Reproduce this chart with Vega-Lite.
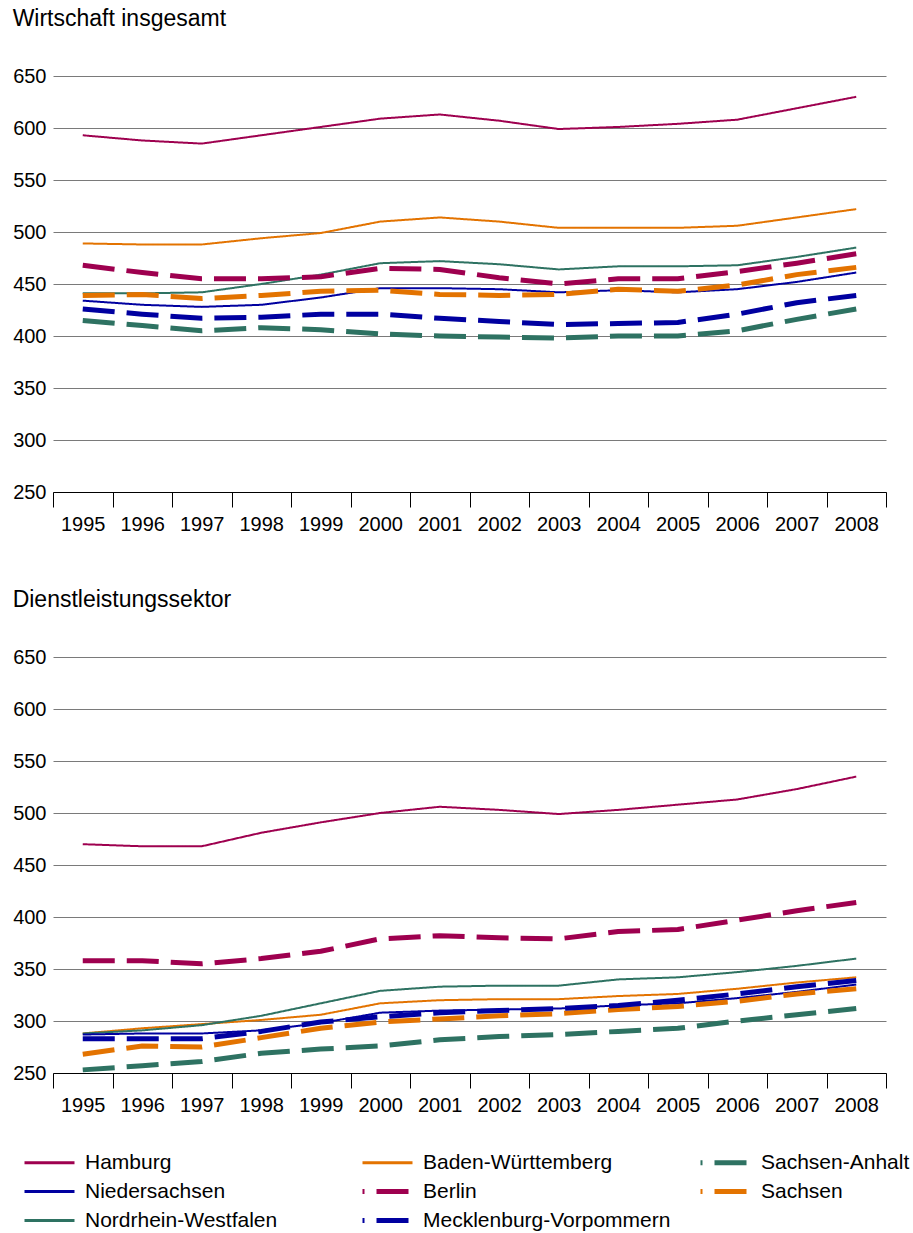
{
  "$schema": "https://vega.github.io/schema/vega-lite/v6.json",
  "background": "white",
  "padding": {"left": 12, "top": 8, "right": 10, "bottom": 10},
  "datasets": {
    "d": [
      {"sektor":"gesamt","land":"Hamburg","region":"West","jahr":"1995","wert":593},{"sektor":"gesamt","land":"Hamburg","region":"West","jahr":"1996","wert":588},{"sektor":"gesamt","land":"Hamburg","region":"West","jahr":"1997","wert":585},{"sektor":"gesamt","land":"Hamburg","region":"West","jahr":"1998","wert":593},{"sektor":"gesamt","land":"Hamburg","region":"West","jahr":"1999","wert":601},{"sektor":"gesamt","land":"Hamburg","region":"West","jahr":"2000","wert":609},{"sektor":"gesamt","land":"Hamburg","region":"West","jahr":"2001","wert":613},{"sektor":"gesamt","land":"Hamburg","region":"West","jahr":"2002","wert":607},{"sektor":"gesamt","land":"Hamburg","region":"West","jahr":"2003","wert":599},{"sektor":"gesamt","land":"Hamburg","region":"West","jahr":"2004","wert":601},{"sektor":"gesamt","land":"Hamburg","region":"West","jahr":"2005","wert":604},{"sektor":"gesamt","land":"Hamburg","region":"West","jahr":"2006","wert":608},{"sektor":"gesamt","land":"Hamburg","region":"West","jahr":"2007","wert":619},{"sektor":"gesamt","land":"Hamburg","region":"West","jahr":"2008","wert":630},
      {"sektor":"gesamt","land":"Baden-Württemberg","region":"West","jahr":"1995","wert":489},{"sektor":"gesamt","land":"Baden-Württemberg","region":"West","jahr":"1996","wert":488},{"sektor":"gesamt","land":"Baden-Württemberg","region":"West","jahr":"1997","wert":488},{"sektor":"gesamt","land":"Baden-Württemberg","region":"West","jahr":"1998","wert":494},{"sektor":"gesamt","land":"Baden-Württemberg","region":"West","jahr":"1999","wert":499},{"sektor":"gesamt","land":"Baden-Württemberg","region":"West","jahr":"2000","wert":510},{"sektor":"gesamt","land":"Baden-Württemberg","region":"West","jahr":"2001","wert":514},{"sektor":"gesamt","land":"Baden-Württemberg","region":"West","jahr":"2002","wert":510},{"sektor":"gesamt","land":"Baden-Württemberg","region":"West","jahr":"2003","wert":504},{"sektor":"gesamt","land":"Baden-Württemberg","region":"West","jahr":"2004","wert":504},{"sektor":"gesamt","land":"Baden-Württemberg","region":"West","jahr":"2005","wert":504},{"sektor":"gesamt","land":"Baden-Württemberg","region":"West","jahr":"2006","wert":506},{"sektor":"gesamt","land":"Baden-Württemberg","region":"West","jahr":"2007","wert":514},{"sektor":"gesamt","land":"Baden-Württemberg","region":"West","jahr":"2008","wert":522},
      {"sektor":"gesamt","land":"Nordrhein-Westfalen","region":"West","jahr":"1995","wert":441},{"sektor":"gesamt","land":"Nordrhein-Westfalen","region":"West","jahr":"1996","wert":441},{"sektor":"gesamt","land":"Nordrhein-Westfalen","region":"West","jahr":"1997","wert":442},{"sektor":"gesamt","land":"Nordrhein-Westfalen","region":"West","jahr":"1998","wert":450},{"sektor":"gesamt","land":"Nordrhein-Westfalen","region":"West","jahr":"1999","wert":459},{"sektor":"gesamt","land":"Nordrhein-Westfalen","region":"West","jahr":"2000","wert":470},{"sektor":"gesamt","land":"Nordrhein-Westfalen","region":"West","jahr":"2001","wert":472},{"sektor":"gesamt","land":"Nordrhein-Westfalen","region":"West","jahr":"2002","wert":469},{"sektor":"gesamt","land":"Nordrhein-Westfalen","region":"West","jahr":"2003","wert":464},{"sektor":"gesamt","land":"Nordrhein-Westfalen","region":"West","jahr":"2004","wert":467},{"sektor":"gesamt","land":"Nordrhein-Westfalen","region":"West","jahr":"2005","wert":467},{"sektor":"gesamt","land":"Nordrhein-Westfalen","region":"West","jahr":"2006","wert":468},{"sektor":"gesamt","land":"Nordrhein-Westfalen","region":"West","jahr":"2007","wert":476},{"sektor":"gesamt","land":"Nordrhein-Westfalen","region":"West","jahr":"2008","wert":485},
      {"sektor":"gesamt","land":"Niedersachsen","region":"West","jahr":"1995","wert":434},{"sektor":"gesamt","land":"Niedersachsen","region":"West","jahr":"1996","wert":430},{"sektor":"gesamt","land":"Niedersachsen","region":"West","jahr":"1997","wert":428},{"sektor":"gesamt","land":"Niedersachsen","region":"West","jahr":"1998","wert":430},{"sektor":"gesamt","land":"Niedersachsen","region":"West","jahr":"1999","wert":437},{"sektor":"gesamt","land":"Niedersachsen","region":"West","jahr":"2000","wert":446},{"sektor":"gesamt","land":"Niedersachsen","region":"West","jahr":"2001","wert":446},{"sektor":"gesamt","land":"Niedersachsen","region":"West","jahr":"2002","wert":445},{"sektor":"gesamt","land":"Niedersachsen","region":"West","jahr":"2003","wert":442},{"sektor":"gesamt","land":"Niedersachsen","region":"West","jahr":"2004","wert":444},{"sektor":"gesamt","land":"Niedersachsen","region":"West","jahr":"2005","wert":442},{"sektor":"gesamt","land":"Niedersachsen","region":"West","jahr":"2006","wert":445},{"sektor":"gesamt","land":"Niedersachsen","region":"West","jahr":"2007","wert":452},{"sektor":"gesamt","land":"Niedersachsen","region":"West","jahr":"2008","wert":461},
      {"sektor":"gesamt","land":"Berlin","region":"Ost","jahr":"1995","wert":468},{"sektor":"gesamt","land":"Berlin","region":"Ost","jahr":"1996","wert":461},{"sektor":"gesamt","land":"Berlin","region":"Ost","jahr":"1997","wert":455},{"sektor":"gesamt","land":"Berlin","region":"Ost","jahr":"1998","wert":455},{"sektor":"gesamt","land":"Berlin","region":"Ost","jahr":"1999","wert":457},{"sektor":"gesamt","land":"Berlin","region":"Ost","jahr":"2000","wert":465},{"sektor":"gesamt","land":"Berlin","region":"Ost","jahr":"2001","wert":464},{"sektor":"gesamt","land":"Berlin","region":"Ost","jahr":"2002","wert":456},{"sektor":"gesamt","land":"Berlin","region":"Ost","jahr":"2003","wert":450},{"sektor":"gesamt","land":"Berlin","region":"Ost","jahr":"2004","wert":455},{"sektor":"gesamt","land":"Berlin","region":"Ost","jahr":"2005","wert":455},{"sektor":"gesamt","land":"Berlin","region":"Ost","jahr":"2006","wert":462},{"sektor":"gesamt","land":"Berlin","region":"Ost","jahr":"2007","wert":470},{"sektor":"gesamt","land":"Berlin","region":"Ost","jahr":"2008","wert":479},
      {"sektor":"gesamt","land":"Sachsen","region":"Ost","jahr":"1995","wert":439},{"sektor":"gesamt","land":"Sachsen","region":"Ost","jahr":"1996","wert":440},{"sektor":"gesamt","land":"Sachsen","region":"Ost","jahr":"1997","wert":436},{"sektor":"gesamt","land":"Sachsen","region":"Ost","jahr":"1998","wert":439},{"sektor":"gesamt","land":"Sachsen","region":"Ost","jahr":"1999","wert":443},{"sektor":"gesamt","land":"Sachsen","region":"Ost","jahr":"2000","wert":444},{"sektor":"gesamt","land":"Sachsen","region":"Ost","jahr":"2001","wert":440},{"sektor":"gesamt","land":"Sachsen","region":"Ost","jahr":"2002","wert":439},{"sektor":"gesamt","land":"Sachsen","region":"Ost","jahr":"2003","wert":440},{"sektor":"gesamt","land":"Sachsen","region":"Ost","jahr":"2004","wert":445},{"sektor":"gesamt","land":"Sachsen","region":"Ost","jahr":"2005","wert":443},{"sektor":"gesamt","land":"Sachsen","region":"Ost","jahr":"2006","wert":449},{"sektor":"gesamt","land":"Sachsen","region":"Ost","jahr":"2007","wert":459},{"sektor":"gesamt","land":"Sachsen","region":"Ost","jahr":"2008","wert":466},
      {"sektor":"gesamt","land":"Mecklenburg-Vorpommern","region":"Ost","jahr":"1995","wert":426},{"sektor":"gesamt","land":"Mecklenburg-Vorpommern","region":"Ost","jahr":"1996","wert":421},{"sektor":"gesamt","land":"Mecklenburg-Vorpommern","region":"Ost","jahr":"1997","wert":417},{"sektor":"gesamt","land":"Mecklenburg-Vorpommern","region":"Ost","jahr":"1998","wert":418},{"sektor":"gesamt","land":"Mecklenburg-Vorpommern","region":"Ost","jahr":"1999","wert":421},{"sektor":"gesamt","land":"Mecklenburg-Vorpommern","region":"Ost","jahr":"2000","wert":421},{"sektor":"gesamt","land":"Mecklenburg-Vorpommern","region":"Ost","jahr":"2001","wert":417},{"sektor":"gesamt","land":"Mecklenburg-Vorpommern","region":"Ost","jahr":"2002","wert":414},{"sektor":"gesamt","land":"Mecklenburg-Vorpommern","region":"Ost","jahr":"2003","wert":411},{"sektor":"gesamt","land":"Mecklenburg-Vorpommern","region":"Ost","jahr":"2004","wert":412},{"sektor":"gesamt","land":"Mecklenburg-Vorpommern","region":"Ost","jahr":"2005","wert":413},{"sektor":"gesamt","land":"Mecklenburg-Vorpommern","region":"Ost","jahr":"2006","wert":421},{"sektor":"gesamt","land":"Mecklenburg-Vorpommern","region":"Ost","jahr":"2007","wert":432},{"sektor":"gesamt","land":"Mecklenburg-Vorpommern","region":"Ost","jahr":"2008","wert":439},
      {"sektor":"gesamt","land":"Sachsen-Anhalt","region":"Ost","jahr":"1995","wert":415},{"sektor":"gesamt","land":"Sachsen-Anhalt","region":"Ost","jahr":"1996","wert":410},{"sektor":"gesamt","land":"Sachsen-Anhalt","region":"Ost","jahr":"1997","wert":405},{"sektor":"gesamt","land":"Sachsen-Anhalt","region":"Ost","jahr":"1998","wert":408},{"sektor":"gesamt","land":"Sachsen-Anhalt","region":"Ost","jahr":"1999","wert":406},{"sektor":"gesamt","land":"Sachsen-Anhalt","region":"Ost","jahr":"2000","wert":402},{"sektor":"gesamt","land":"Sachsen-Anhalt","region":"Ost","jahr":"2001","wert":400},{"sektor":"gesamt","land":"Sachsen-Anhalt","region":"Ost","jahr":"2002","wert":399},{"sektor":"gesamt","land":"Sachsen-Anhalt","region":"Ost","jahr":"2003","wert":398},{"sektor":"gesamt","land":"Sachsen-Anhalt","region":"Ost","jahr":"2004","wert":400},{"sektor":"gesamt","land":"Sachsen-Anhalt","region":"Ost","jahr":"2005","wert":400},{"sektor":"gesamt","land":"Sachsen-Anhalt","region":"Ost","jahr":"2006","wert":405},{"sektor":"gesamt","land":"Sachsen-Anhalt","region":"Ost","jahr":"2007","wert":416},{"sektor":"gesamt","land":"Sachsen-Anhalt","region":"Ost","jahr":"2008","wert":426},
      {"sektor":"dienst","land":"Hamburg","region":"West","jahr":"1995","wert":470},{"sektor":"dienst","land":"Hamburg","region":"West","jahr":"1996","wert":468},{"sektor":"dienst","land":"Hamburg","region":"West","jahr":"1997","wert":468},{"sektor":"dienst","land":"Hamburg","region":"West","jahr":"1998","wert":481},{"sektor":"dienst","land":"Hamburg","region":"West","jahr":"1999","wert":491},{"sektor":"dienst","land":"Hamburg","region":"West","jahr":"2000","wert":500},{"sektor":"dienst","land":"Hamburg","region":"West","jahr":"2001","wert":506},{"sektor":"dienst","land":"Hamburg","region":"West","jahr":"2002","wert":503},{"sektor":"dienst","land":"Hamburg","region":"West","jahr":"2003","wert":499},{"sektor":"dienst","land":"Hamburg","region":"West","jahr":"2004","wert":503},{"sektor":"dienst","land":"Hamburg","region":"West","jahr":"2005","wert":508},{"sektor":"dienst","land":"Hamburg","region":"West","jahr":"2006","wert":513},{"sektor":"dienst","land":"Hamburg","region":"West","jahr":"2007","wert":523},{"sektor":"dienst","land":"Hamburg","region":"West","jahr":"2008","wert":535},
      {"sektor":"dienst","land":"Baden-Württemberg","region":"West","jahr":"1995","wert":288},{"sektor":"dienst","land":"Baden-Württemberg","region":"West","jahr":"1996","wert":293},{"sektor":"dienst","land":"Baden-Württemberg","region":"West","jahr":"1997","wert":297},{"sektor":"dienst","land":"Baden-Württemberg","region":"West","jahr":"1998","wert":301},{"sektor":"dienst","land":"Baden-Württemberg","region":"West","jahr":"1999","wert":306},{"sektor":"dienst","land":"Baden-Württemberg","region":"West","jahr":"2000","wert":317},{"sektor":"dienst","land":"Baden-Württemberg","region":"West","jahr":"2001","wert":320},{"sektor":"dienst","land":"Baden-Württemberg","region":"West","jahr":"2002","wert":321},{"sektor":"dienst","land":"Baden-Württemberg","region":"West","jahr":"2003","wert":321},{"sektor":"dienst","land":"Baden-Württemberg","region":"West","jahr":"2004","wert":324},{"sektor":"dienst","land":"Baden-Württemberg","region":"West","jahr":"2005","wert":326},{"sektor":"dienst","land":"Baden-Württemberg","region":"West","jahr":"2006","wert":331},{"sektor":"dienst","land":"Baden-Württemberg","region":"West","jahr":"2007","wert":337},{"sektor":"dienst","land":"Baden-Württemberg","region":"West","jahr":"2008","wert":342},
      {"sektor":"dienst","land":"Nordrhein-Westfalen","region":"West","jahr":"1995","wert":288},{"sektor":"dienst","land":"Nordrhein-Westfalen","region":"West","jahr":"1996","wert":291},{"sektor":"dienst","land":"Nordrhein-Westfalen","region":"West","jahr":"1997","wert":296},{"sektor":"dienst","land":"Nordrhein-Westfalen","region":"West","jahr":"1998","wert":305},{"sektor":"dienst","land":"Nordrhein-Westfalen","region":"West","jahr":"1999","wert":317},{"sektor":"dienst","land":"Nordrhein-Westfalen","region":"West","jahr":"2000","wert":329},{"sektor":"dienst","land":"Nordrhein-Westfalen","region":"West","jahr":"2001","wert":333},{"sektor":"dienst","land":"Nordrhein-Westfalen","region":"West","jahr":"2002","wert":334},{"sektor":"dienst","land":"Nordrhein-Westfalen","region":"West","jahr":"2003","wert":334},{"sektor":"dienst","land":"Nordrhein-Westfalen","region":"West","jahr":"2004","wert":340},{"sektor":"dienst","land":"Nordrhein-Westfalen","region":"West","jahr":"2005","wert":342},{"sektor":"dienst","land":"Nordrhein-Westfalen","region":"West","jahr":"2006","wert":347},{"sektor":"dienst","land":"Nordrhein-Westfalen","region":"West","jahr":"2007","wert":353},{"sektor":"dienst","land":"Nordrhein-Westfalen","region":"West","jahr":"2008","wert":360},
      {"sektor":"dienst","land":"Niedersachsen","region":"West","jahr":"1995","wert":287},{"sektor":"dienst","land":"Niedersachsen","region":"West","jahr":"1996","wert":288},{"sektor":"dienst","land":"Niedersachsen","region":"West","jahr":"1997","wert":288},{"sektor":"dienst","land":"Niedersachsen","region":"West","jahr":"1998","wert":291},{"sektor":"dienst","land":"Niedersachsen","region":"West","jahr":"1999","wert":298},{"sektor":"dienst","land":"Niedersachsen","region":"West","jahr":"2000","wert":308},{"sektor":"dienst","land":"Niedersachsen","region":"West","jahr":"2001","wert":310},{"sektor":"dienst","land":"Niedersachsen","region":"West","jahr":"2002","wert":311},{"sektor":"dienst","land":"Niedersachsen","region":"West","jahr":"2003","wert":312},{"sektor":"dienst","land":"Niedersachsen","region":"West","jahr":"2004","wert":315},{"sektor":"dienst","land":"Niedersachsen","region":"West","jahr":"2005","wert":317},{"sektor":"dienst","land":"Niedersachsen","region":"West","jahr":"2006","wert":322},{"sektor":"dienst","land":"Niedersachsen","region":"West","jahr":"2007","wert":328},{"sektor":"dienst","land":"Niedersachsen","region":"West","jahr":"2008","wert":335},
      {"sektor":"dienst","land":"Berlin","region":"Ost","jahr":"1995","wert":358},{"sektor":"dienst","land":"Berlin","region":"Ost","jahr":"1996","wert":358},{"sektor":"dienst","land":"Berlin","region":"Ost","jahr":"1997","wert":355},{"sektor":"dienst","land":"Berlin","region":"Ost","jahr":"1998","wert":360},{"sektor":"dienst","land":"Berlin","region":"Ost","jahr":"1999","wert":367},{"sektor":"dienst","land":"Berlin","region":"Ost","jahr":"2000","wert":379},{"sektor":"dienst","land":"Berlin","region":"Ost","jahr":"2001","wert":382},{"sektor":"dienst","land":"Berlin","region":"Ost","jahr":"2002","wert":380},{"sektor":"dienst","land":"Berlin","region":"Ost","jahr":"2003","wert":379},{"sektor":"dienst","land":"Berlin","region":"Ost","jahr":"2004","wert":386},{"sektor":"dienst","land":"Berlin","region":"Ost","jahr":"2005","wert":388},{"sektor":"dienst","land":"Berlin","region":"Ost","jahr":"2006","wert":397},{"sektor":"dienst","land":"Berlin","region":"Ost","jahr":"2007","wert":406},{"sektor":"dienst","land":"Berlin","region":"Ost","jahr":"2008","wert":414},
      {"sektor":"dienst","land":"Sachsen","region":"Ost","jahr":"1995","wert":268},{"sektor":"dienst","land":"Sachsen","region":"Ost","jahr":"1996","wert":276},{"sektor":"dienst","land":"Sachsen","region":"Ost","jahr":"1997","wert":275},{"sektor":"dienst","land":"Sachsen","region":"Ost","jahr":"1998","wert":284},{"sektor":"dienst","land":"Sachsen","region":"Ost","jahr":"1999","wert":293},{"sektor":"dienst","land":"Sachsen","region":"Ost","jahr":"2000","wert":299},{"sektor":"dienst","land":"Sachsen","region":"Ost","jahr":"2001","wert":302},{"sektor":"dienst","land":"Sachsen","region":"Ost","jahr":"2002","wert":305},{"sektor":"dienst","land":"Sachsen","region":"Ost","jahr":"2003","wert":307},{"sektor":"dienst","land":"Sachsen","region":"Ost","jahr":"2004","wert":311},{"sektor":"dienst","land":"Sachsen","region":"Ost","jahr":"2005","wert":314},{"sektor":"dienst","land":"Sachsen","region":"Ost","jahr":"2006","wert":319},{"sektor":"dienst","land":"Sachsen","region":"Ost","jahr":"2007","wert":326},{"sektor":"dienst","land":"Sachsen","region":"Ost","jahr":"2008","wert":331},
      {"sektor":"dienst","land":"Mecklenburg-Vorpommern","region":"Ost","jahr":"1995","wert":283},{"sektor":"dienst","land":"Mecklenburg-Vorpommern","region":"Ost","jahr":"1996","wert":283},{"sektor":"dienst","land":"Mecklenburg-Vorpommern","region":"Ost","jahr":"1997","wert":283},{"sektor":"dienst","land":"Mecklenburg-Vorpommern","region":"Ost","jahr":"1998","wert":290},{"sektor":"dienst","land":"Mecklenburg-Vorpommern","region":"Ost","jahr":"1999","wert":299},{"sektor":"dienst","land":"Mecklenburg-Vorpommern","region":"Ost","jahr":"2000","wert":304},{"sektor":"dienst","land":"Mecklenburg-Vorpommern","region":"Ost","jahr":"2001","wert":308},{"sektor":"dienst","land":"Mecklenburg-Vorpommern","region":"Ost","jahr":"2002","wert":310},{"sektor":"dienst","land":"Mecklenburg-Vorpommern","region":"Ost","jahr":"2003","wert":312},{"sektor":"dienst","land":"Mecklenburg-Vorpommern","region":"Ost","jahr":"2004","wert":315},{"sektor":"dienst","land":"Mecklenburg-Vorpommern","region":"Ost","jahr":"2005","wert":320},{"sektor":"dienst","land":"Mecklenburg-Vorpommern","region":"Ost","jahr":"2006","wert":326},{"sektor":"dienst","land":"Mecklenburg-Vorpommern","region":"Ost","jahr":"2007","wert":333},{"sektor":"dienst","land":"Mecklenburg-Vorpommern","region":"Ost","jahr":"2008","wert":339},
      {"sektor":"dienst","land":"Sachsen-Anhalt","region":"Ost","jahr":"1995","wert":253},{"sektor":"dienst","land":"Sachsen-Anhalt","region":"Ost","jahr":"1996","wert":257},{"sektor":"dienst","land":"Sachsen-Anhalt","region":"Ost","jahr":"1997","wert":261},{"sektor":"dienst","land":"Sachsen-Anhalt","region":"Ost","jahr":"1998","wert":269},{"sektor":"dienst","land":"Sachsen-Anhalt","region":"Ost","jahr":"1999","wert":273},{"sektor":"dienst","land":"Sachsen-Anhalt","region":"Ost","jahr":"2000","wert":276},{"sektor":"dienst","land":"Sachsen-Anhalt","region":"Ost","jahr":"2001","wert":282},{"sektor":"dienst","land":"Sachsen-Anhalt","region":"Ost","jahr":"2002","wert":285},{"sektor":"dienst","land":"Sachsen-Anhalt","region":"Ost","jahr":"2003","wert":287},{"sektor":"dienst","land":"Sachsen-Anhalt","region":"Ost","jahr":"2004","wert":290},{"sektor":"dienst","land":"Sachsen-Anhalt","region":"Ost","jahr":"2005","wert":293},{"sektor":"dienst","land":"Sachsen-Anhalt","region":"Ost","jahr":"2006","wert":300},{"sektor":"dienst","land":"Sachsen-Anhalt","region":"Ost","jahr":"2007","wert":306},{"sektor":"dienst","land":"Sachsen-Anhalt","region":"Ost","jahr":"2008","wert":312}
    ]
  },
  "spacing": 55,
  "vconcat": [
    {
      "title": {"text": "Wirtschaft insgesamt"},
      "width": 833,
      "height": 416,
      "data": {"name": "d"},
      "transform": [{"filter": "datum.sektor == 'gesamt'"}],
      "mark": {"type": "line", "strokeCap": "butt", "strokeJoin": "round"},
      "encoding": {
        "x": {"field": "jahr", "type": "ordinal", "bandPosition": 0.5, "scale": {"type": "band", "paddingInner": 0, "paddingOuter": 0}, "axis": {"title": null, "tickBand": "extent", "labelAngle": 0, "domainColor": "black", "tickColor": "black", "tickSize": 15, "labelPadding": 7, "grid": false}},
        "y": {"field": "wert", "type": "quantitative", "scale": {"domain": [250, 650], "nice": false, "zero": false}, "axis": {"title": null, "values": [250, 300, 350, 400, 450, 500, 550, 600, 650], "grid": true, "gridColor": "#7a7a7a", "domain": false, "ticks": false, "labelPadding": 7}},
        "color": {"field": "land", "type": "nominal", "scale": {"domain": ["Hamburg", "Baden-Württemberg", "Sachsen-Anhalt", "Niedersachsen", "Berlin", "Sachsen", "Nordrhein-Westfalen", "Mecklenburg-Vorpommern"], "range": ["#9e004f", "#e37300", "#2e7262", "#0000a0", "#9e004f", "#e37300", "#2e7262", "#0000a0"]}, "legend": {"title": null, "encode": {"symbols": {"update": {"strokeWidth": {"signal": "indexof(['Berlin','Sachsen','Sachsen-Anhalt','Mecklenburg-Vorpommern'], datum.value) >= 0 ? 5 : 3"}}}}}},
        "strokeDash": {"field": "land", "type": "nominal", "scale": {"domain": ["Hamburg", "Baden-Württemberg", "Sachsen-Anhalt", "Niedersachsen", "Berlin", "Sachsen", "Nordrhein-Westfalen", "Mecklenburg-Vorpommern"], "range": [[1, 0], [1, 0], [32, 12], [1, 0], [32, 12], [32, 12], [1, 0], [32, 12]]}, "legend": {"title": null}},
        "strokeWidth": {"field": "region", "type": "ordinal", "scale": {"domain": ["West", "Ost"], "range": [2, 5]}, "legend": null}
      }
    },
    {
      "title": {"text": "Dienstleistungssektor"},
      "width": 833,
      "height": 416,
      "data": {"name": "d"},
      "transform": [{"filter": "datum.sektor == 'dienst'"}],
      "mark": {"type": "line", "strokeCap": "butt", "strokeJoin": "round"},
      "encoding": {
        "x": {"field": "jahr", "type": "ordinal", "bandPosition": 0.5, "scale": {"type": "band", "paddingInner": 0, "paddingOuter": 0}, "axis": {"title": null, "tickBand": "extent", "labelAngle": 0, "domainColor": "black", "tickColor": "black", "tickSize": 15, "labelPadding": 7, "grid": false}},
        "y": {"field": "wert", "type": "quantitative", "scale": {"domain": [250, 650], "nice": false, "zero": false}, "axis": {"title": null, "values": [250, 300, 350, 400, 450, 500, 550, 600, 650], "grid": true, "gridColor": "#7a7a7a", "domain": false, "ticks": false, "labelPadding": 7}},
        "color": {"field": "land", "type": "nominal", "scale": {"domain": ["Hamburg", "Baden-Württemberg", "Sachsen-Anhalt", "Niedersachsen", "Berlin", "Sachsen", "Nordrhein-Westfalen", "Mecklenburg-Vorpommern"], "range": ["#9e004f", "#e37300", "#2e7262", "#0000a0", "#9e004f", "#e37300", "#2e7262", "#0000a0"]}, "legend": {"title": null, "encode": {"symbols": {"update": {"strokeWidth": {"signal": "indexof(['Berlin','Sachsen','Sachsen-Anhalt','Mecklenburg-Vorpommern'], datum.value) >= 0 ? 5 : 3"}}}}}},
        "strokeDash": {"field": "land", "type": "nominal", "scale": {"domain": ["Hamburg", "Baden-Württemberg", "Sachsen-Anhalt", "Niedersachsen", "Berlin", "Sachsen", "Nordrhein-Westfalen", "Mecklenburg-Vorpommern"], "range": [[1, 0], [1, 0], [32, 12], [1, 0], [32, 12], [32, 12], [1, 0], [32, 12]]}, "legend": {"title": null}},
        "strokeWidth": {"field": "region", "type": "ordinal", "scale": {"domain": ["West", "Ost"], "range": [2, 5]}, "legend": null}
      }
    }
  ],
  "config": {
    "font": "Liberation Sans",
    "view": {"stroke": null},
    "axis": {"labelFont": "Liberation Sans", "labelFontSize": 20, "labelColor": "black"},
    "title": {"anchor": "start", "frame": "bounds", "fontSize": 23, "fontWeight": "normal", "color": "black", "font": "Liberation Sans", "offset": 35},
    "legend": {
      "orient": "none",
      "direction": "horizontal",
      "legendX": -14,
      "legendY": 1076,
      "columns": 3,
      "gridAlign": "all",
      "symbolType": "stroke",
      "symbolSize": 2500,
      "symbolStrokeWidth": 3,
      "symbolDashOffset": 30,
      "labelFont": "Liberation Sans",
      "labelFontSize": 21,
      "labelColor": "black",
      "labelOffset": 25,
      "labelLimit": 400,
      "columnPadding": 19,
      "rowPadding": 7
    }
  }
}
